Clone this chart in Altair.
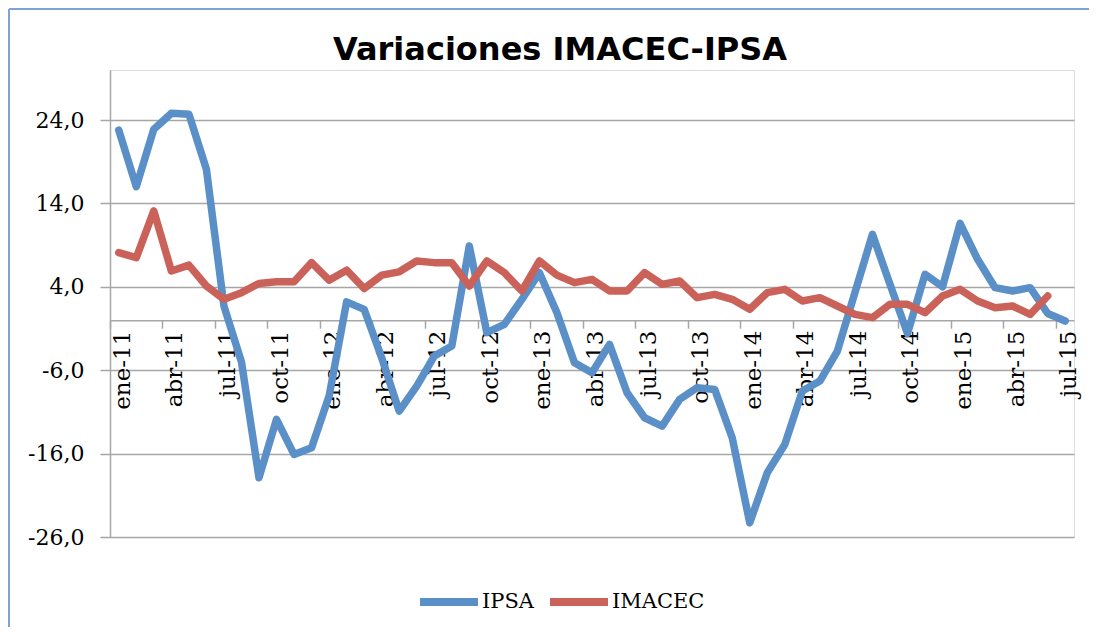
import altair as alt
import pandas as pd

meses = [
    "ene-11", "feb-11", "mar-11", "abr-11", "may-11", "jun-11", "jul-11", "ago-11", "sep-11", "oct-11", "nov-11", "dic-11",
    "ene-12", "feb-12", "mar-12", "abr-12", "may-12", "jun-12", "jul-12", "ago-12", "sep-12", "oct-12", "nov-12", "dic-12",
    "ene-13", "feb-13", "mar-13", "abr-13", "may-13", "jun-13", "jul-13", "ago-13", "sep-13", "oct-13", "nov-13", "dic-13",
    "ene-14", "feb-14", "mar-14", "abr-14", "may-14", "jun-14", "jul-14", "ago-14", "sep-14", "oct-14", "nov-14", "dic-14",
    "ene-15", "feb-15", "mar-15", "abr-15", "may-15", "jun-15", "jul-15",
]

ipsa = [
    22.8, 16.0, 22.9, 24.8, 24.7, 18.1, 1.7, -5.0, -18.9, -11.9, -16.1, -15.3,
    -9.1, 2.2, 1.3, -4.5, -10.9, -7.9, -4.3, -3.1, 8.9, -1.5, -0.5, 2.5,
    5.7, 0.9, -5.1, -6.3, -2.9, -8.7, -11.7, -12.7, -9.5, -8.1, -8.3, -14.1,
    -24.3, -18.3, -14.9, -8.5, -7.3, -3.7, 3.3, 10.3, 4.3, -1.6, 5.5, 4.0,
    11.6, 7.3, 3.9, 3.5, 3.9, 0.8, -0.1,
]

imacec = [
    8.1, 7.5, 13.1, 5.9, 6.6, 4.1, 2.5, 3.3, 4.4, 4.6, 4.6, 6.9,
    4.8, 6.0, 3.8, 5.4, 5.8, 7.1, 6.9, 6.9, 4.1, 7.1, 5.7, 3.5,
    7.1, 5.4, 4.5, 4.9, 3.5, 3.5, 5.7, 4.3, 4.7, 2.7, 3.1, 2.5,
    1.3, 3.3, 3.7, 2.3, 2.7, 1.7, 0.7, 0.3, 1.9, 1.9, 0.9, 2.9,
    3.7, 2.3, 1.5, 1.7, 0.7, 2.9,
]

series = ["IPSA", "IMACEC"]
colores = ["#5B8FC8", "#CB625A"]
y_ticks = [-26, -16, -6, 4, 14, 24]
titulo = "Variaciones IMACEC-IPSA"

df = pd.DataFrame({
    "mes": meses[:len(ipsa)] + meses[:len(imacec)],
    "valor": ipsa + imacec,
    "serie": ["IPSA"] * len(ipsa) + ["IMACEC"] * len(imacec),
})

W, H = 964, 467
YMIN, YMAX = -26, 30
x_axis_offset = -H * (0 - YMIN) / (YMAX - YMIN)
GRID = "#A6A6A6"
BORDER = "#7EA4D6"

x_enc = alt.X(
    "mes:N",
    scale=alt.Scale(type="band", domain=meses, paddingInner=0, paddingOuter=0),
    axis=alt.Axis(
        title=None, values=meses[::3], bandPosition=0, labelAngle=-90,
        labelFont="DejaVu Serif", labelFontSize=23, labelColor="black",
        labelPadding=2, labelOffset=4, labelOverlap=False,
        tickSize=8, tickColor=GRID, tickWidth=1.5,
        domainColor=GRID, domainWidth=1.5, grid=False,
        offset=x_axis_offset,
    ),
)
y_enc = alt.Y(
    "valor:Q",
    scale=alt.Scale(domain=[YMIN, YMAX], nice=False, zero=False),
    axis=alt.Axis(
        title=None, values=y_ticks,
        labelExpr="(datum.value < 0 ? '-' : '') + replace(format(abs(datum.value), '.1f'), '.', ',')",
        labelFont="DejaVu Serif", labelFontSize=22, labelColor="black", labelPadding=16,
        tickSize=10, tickColor=GRID, tickWidth=1.5,
        domainColor=GRID, domainWidth=1.5,
        grid=True, gridColor=GRID, gridWidth=1.5,
    ),
)
color_enc = alt.Color(
    "serie:N",
    scale=alt.Scale(domain=series, range=colores),
    legend=alt.Legend(
        title=None, orient="none", legendX=306, legendY=499, direction="horizontal",
        symbolType="stroke", symbolSize=3364, symbolStrokeWidth=8,
        labelFont="DejaVu Serif", labelFontSize=21, labelColor="black",
        labelOffset=0, columnPadding=0, padding=0,
    ),
)

base = alt.Chart(df)
capas = []
for s in series:
    capas.append(
        base.transform_filter(alt.datum.serie == s)
        .mark_line(strokeWidth=7.5, strokeCap="round", strokeJoin="round")
        .encode(x=x_enc, y=y_enc, color=color_enc)
    )

marco = alt.Chart(pd.DataFrame({"k": [0]}))
borde_izq = marco.mark_rule(color=BORDER, strokeWidth=2).encode(
    x=alt.value(-101), y=alt.value(-61), y2=alt.value(H + 100)
)
borde_sup = marco.mark_rule(color=BORDER, strokeWidth=2).encode(
    x=alt.value(-101), x2=alt.value(W + 40), y=alt.value(-61)
)

chart = alt.layer(borde_izq, borde_sup, *capas).properties(
    width=W, height=H,
    autosize=alt.AutoSizeParams(type="none"),
    padding={"left": 102, "top": 62, "right": 15, "bottom": 90},
    title=alt.TitleParams(
        titulo, font="DejaVu Sans", fontSize=32, fontWeight="bold", color="black",
        anchor="middle", frame="group", dx=-32, offset=-84, baseline="alphabetic",
    ),
).configure_view(stroke=None).configure(background="white")

chart.save("out.html", embed_options={"renderer": "svg", "actions": False})
